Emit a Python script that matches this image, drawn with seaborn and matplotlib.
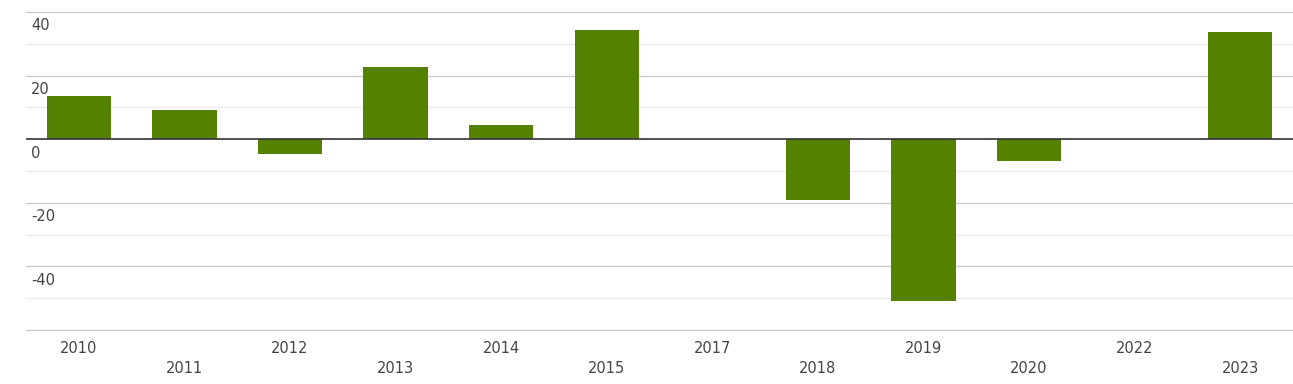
import matplotlib
matplotlib.use("Agg")
import matplotlib.pyplot as plt
import matplotlib.transforms as mtransforms
import seaborn as sns
import pandas as pd

years = ["2010", "2011", "2012", "2013", "2014", "2015", "2017", "2018", "2019", "2020", "2022", "2023"]
values = [13.5, 9.1, -4.6, 22.7, 4.4, 34.3, 0.0, -19.2, -51.0, -6.8, 0.0, 33.7]
y_ticks = [40, 20, 0, -20, -40]
y_tick_labels = ["40", "20", "0", "-20", "-40"]

sns.set_theme(style="white")
plt.rcParams['font.family'] = ['DejaVu Sans']

df = pd.DataFrame({"year": years, "value": values})

fig = plt.figure(figsize=(12.93, 3.84), dpi=100)
ax = fig.add_axes([26 / 1293, 54 / 384, 1 - 26 / 1293, (330 - 12) / 384])

sns.barplot(data=df, x="year", y="value", order=years, color="#548200",
            saturation=1, width=0.61, ax=ax, edgecolor="none", zorder=3)

ax.set_ylim(-60, 40)
ax.set_xlim(-0.5, len(years) - 0.5)
for s in ax.spines.values():
    s.set_visible(False)

# gridlines
for v in range(-60, 41, 20):
    if v == 0:
        continue
    ax.axhline(v, color="#cccccc", lw=1, zorder=1, clip_on=False)
for v in range(-50, 40, 20):
    ax.axhline(v, color="#ebebeb", lw=1, zorder=1)
ax.axhline(0, color="#333333", lw=1.2, zorder=4)

ax.set_yticks([])
ax.set_xlabel("")
ax.set_ylabel("")

trans = mtransforms.blended_transform_factory(ax.transAxes, ax.transData)
trans = mtransforms.offset_copy(trans, fig=fig, x=5, y=-6.5, units="dots")
for v, lab in zip(y_ticks, y_tick_labels):
    ax.text(0, v, lab, transform=trans, ha="left", va="top",
            fontsize=10.5, color="#444444")

ax.set_xticks(range(len(years)))
ax.set_xticklabels(years, fontsize=10.5, color="#444444")
ax.tick_params(axis="x", length=0)
for i, t in enumerate(ax.xaxis.get_major_ticks()):
    t.set_pad(8 if i % 2 == 0 else 22.5)

fig.savefig("out.png", dpi=100, facecolor="white")
